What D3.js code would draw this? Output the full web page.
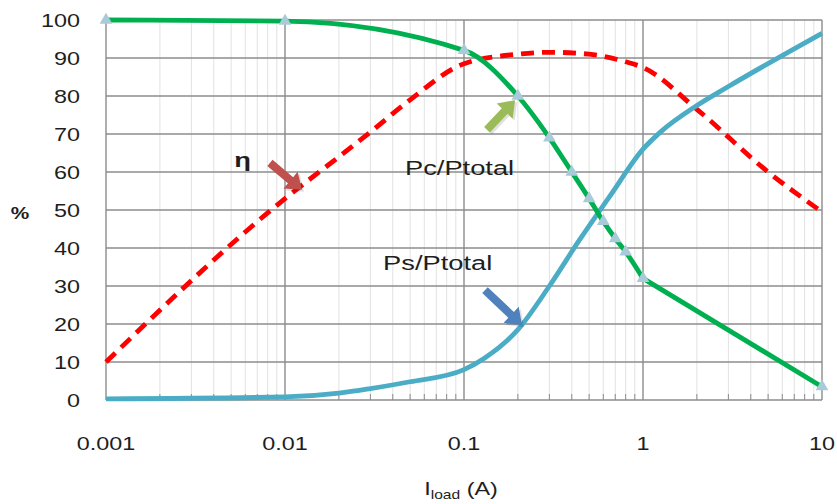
<!DOCTYPE html>
<meta charset="utf-8">
<style>
  body { margin: 0; background: #fff; }
  text { font-family: "Liberation Sans", Arial, sans-serif; fill: #1e1e1e; }
  .grid-major { stroke: #8c8c8c; stroke-width: 1.4px; }
  .grid-minor { stroke: #e2e2e2; stroke-width: 1px; }
  .tick-minor { stroke: #8c8c8c; stroke-width: 1px; }
  .series { fill: none; stroke-width: 4.8px; stroke-linejoin: round; }
</style>
<body>
<div id="chart"></div>
<script src="https://d3js.org/d3.v7.min.js"></script>
<script>
  // axis ticks
  var xTicks = [0.001, 0.01, 0.1, 1, 10];
  var xTickLabels = ["0.001", "0.01", "0.1", "1", "10"];
  var yTicks = [0, 10, 20, 30, 40, 50, 60, 70, 80, 90, 100];

  // Pc/Ptotal (green, with markers)
  var pcLoad = [0.001, 0.01, 0.1, 0.2, 0.3, 0.4, 0.5, 0.6, 0.7, 0.8, 1, 10];
  var pcPct  = [100, 99.7, 92, 80, 69, 60, 53, 47, 42.5, 39, 32, 3.5];

  // efficiency eta (red dashed)
  var etaLoad = [0.001, 0.01, 0.02, 0.03, 0.05, 0.1, 0.2, 0.3, 0.5, 0.8, 1, 2, 5, 10];
  var etaPct  = [10, 53, 64, 70.5, 79, 88.5, 91, 91.5, 91, 89, 87.5, 76.5, 60, 49.5];

  // Ps/Ptotal (blue)
  var psLoad = [0.001, 0.01, 0.02, 0.03, 0.05, 0.1, 0.13, 0.2, 0.3, 0.44, 0.65, 1, 1.25, 2, 3, 10];
  var psPct  = [0.3, 0.8, 1.8, 3, 4.8, 8, 11, 18.5, 30, 42, 53.5, 66, 70.5, 77.5, 82.5, 96.5];

  // annotations, in data units [load, pct]
  var labelText = ["η", "Pc/Ptotal", "Ps/Ptotal"];
  var labelAt   = [[0.0058, 61.3], [0.0468, 59.2], [0.0353, 34.2]];
  var arrowFrom = [[0.00824, 62.4], [0.1344, 71.1], [0.131, 28.9]];
  var arrowTo   = [[0.01245, 55.3], [0.1928, 78.9], [0.211, 19.7]];
  var arrowColor = ["#c0504d", "#9bbb59", "#4f81bd"];

  var W = 837, H = 504, SX = 1.3;

  var x = d3.scaleLog().domain([0.001, 10]).range([106, 822]);
  var y = d3.scaleLinear().domain([0, 100]).range([400, 20]);

  var svg = d3.select("#chart").append("svg")
    .attr("width", W).attr("height", H);

  // stretched text helper (reference text is wide)
  function label(px, py, str, size, anchor) {
    return svg.append("text")
      .attr("transform", "translate(" + px + "," + py + ") scale(" + SX + ",1)")
      .attr("text-anchor", anchor || "start")
      .attr("font-size", size)
      .text(str);
  }

  var minor = x.ticks().filter(function (d) { return xTicks.indexOf(d) < 0; });

  // minor vertical grid
  svg.append("g").selectAll("line").data(minor).enter().append("line")
    .attr("class", "grid-minor")
    .attr("x1", d => x(d)).attr("x2", d => x(d))
    .attr("y1", y(100)).attr("y2", y(0));

  // minor ticks on the x axis
  svg.append("g").selectAll("line").data(minor).enter().append("line")
    .attr("class", "tick-minor")
    .attr("x1", d => x(d)).attr("x2", d => x(d))
    .attr("y1", y(0)).attr("y2", y(0) - 6);

  // major grid
  svg.append("g").selectAll("line").data(yTicks).enter().append("line")
    .attr("class", "grid-major")
    .attr("x1", x(0.001)).attr("x2", x(10))
    .attr("y1", d => y(d)).attr("y2", d => y(d));
  svg.append("g").selectAll("line").data(xTicks).enter().append("line")
    .attr("class", "grid-major")
    .attr("x1", d => x(d)).attr("x2", d => x(d))
    .attr("y1", y(100)).attr("y2", y(0));

  // tick labels
  yTicks.forEach(function (d) {
    label(80, y(d) + 6.5, String(d), 18, "end");
  });
  xTicks.forEach(function (d, i) {
    label(x(d), 450, xTickLabels[i], 18, "middle");
  });

  label(20, 219, "%", 16, "middle").attr("font-weight", "bold");

  var axisTitle = svg.append("text")
    .attr("transform", "translate(461,495) scale(" + SX + ",1)")
    .attr("text-anchor", "middle")
    .attr("font-size", 18);
  axisTitle.append("tspan").text("I");
  axisTitle.append("tspan").attr("font-size", 12).attr("dy", 4).text("load");
  axisTitle.append("tspan").attr("dy", -4).text(" (A)");

  var line = d3.line()
    .curve(d3.curveMonotoneX)
    .x(d => x(d[0]))
    .y(d => y(d[1]));
  var straight = d3.line()
    .x(d => x(d[0]))
    .y(d => y(d[1]));

  var pc = d3.zip(pcLoad, pcPct);
  var eta = d3.zip(etaLoad, etaPct);
  var ps = d3.zip(psLoad, psPct);

  svg.append("path").datum(eta).attr("class", "series")
    .attr("stroke", "#ff0000")
    .attr("stroke-dasharray", "13,8")
    .attr("d", line);

  svg.append("path").datum(ps).attr("class", "series")
    .attr("stroke", "#4bacc6")
    .attr("d", line);

  // green: smooth up to 1 A, then straight to 10 A
  svg.append("path").datum(pc.filter(d => d[0] <= 1)).attr("class", "series")
    .attr("stroke", "#00b050")
    .attr("d", line);
  svg.append("path").datum(pc.filter(d => d[0] >= 1)).attr("class", "series")
    .attr("stroke", "#00b050")
    .attr("stroke-linecap", "round")
    .attr("d", straight);

  // triangle markers on the green series
  svg.append("g").selectAll("path").data(pc).enter().append("path")
    .attr("d", d3.symbol().type(d3.symbolTriangle).size(70))
    .attr("transform", d => "translate(" + x(d[0]) + "," + y(d[1]) + ")")
    .attr("fill", "#a9cbd9");

  // block arrows
  function arrowPath(x0, y0, x1, y1) {
    var dx = x1 - x0, dy = y1 - y0, len = Math.sqrt(dx * dx + dy * dy);
    var ux = dx / len, uy = dy / len, nx = -uy, ny = ux;
    var sw = 4, hw = 11, hl = 15;
    var bx = x1 - ux * hl, by = y1 - uy * hl;
    var pts = [
      [x0 + nx * sw, y0 + ny * sw],
      [bx + nx * sw, by + ny * sw],
      [bx + nx * hw, by + ny * hw],
      [x1, y1],
      [bx - nx * hw, by - ny * hw],
      [bx - nx * sw, by - ny * sw],
      [x0 - nx * sw, y0 - ny * sw]
    ];
    return "M" + pts.map(p => p.join(",")).join("L") + "Z";
  }

  arrowFrom.forEach(function (f, i) {
    var t = arrowTo[i];
    svg.append("path")
      .attr("d", arrowPath(x(f[0]) + 2, y(f[1]) + 2, x(t[0]) + 2, y(t[1]) + 2))
      .attr("fill", "#000").attr("opacity", 0.12);
    svg.append("path")
      .attr("d", arrowPath(x(f[0]), y(f[1]), x(t[0]), y(t[1])))
      .attr("fill", arrowColor[i]);
  });

  // series labels
  label(x(labelAt[0][0]), y(labelAt[0][1]), labelText[0], 21, "middle")
    .attr("font-weight", "bold");
  label(x(labelAt[1][0]), y(labelAt[1][1]), labelText[1], 21);
  label(x(labelAt[2][0]), y(labelAt[2][1]), labelText[2], 21);
</script>
</body>
